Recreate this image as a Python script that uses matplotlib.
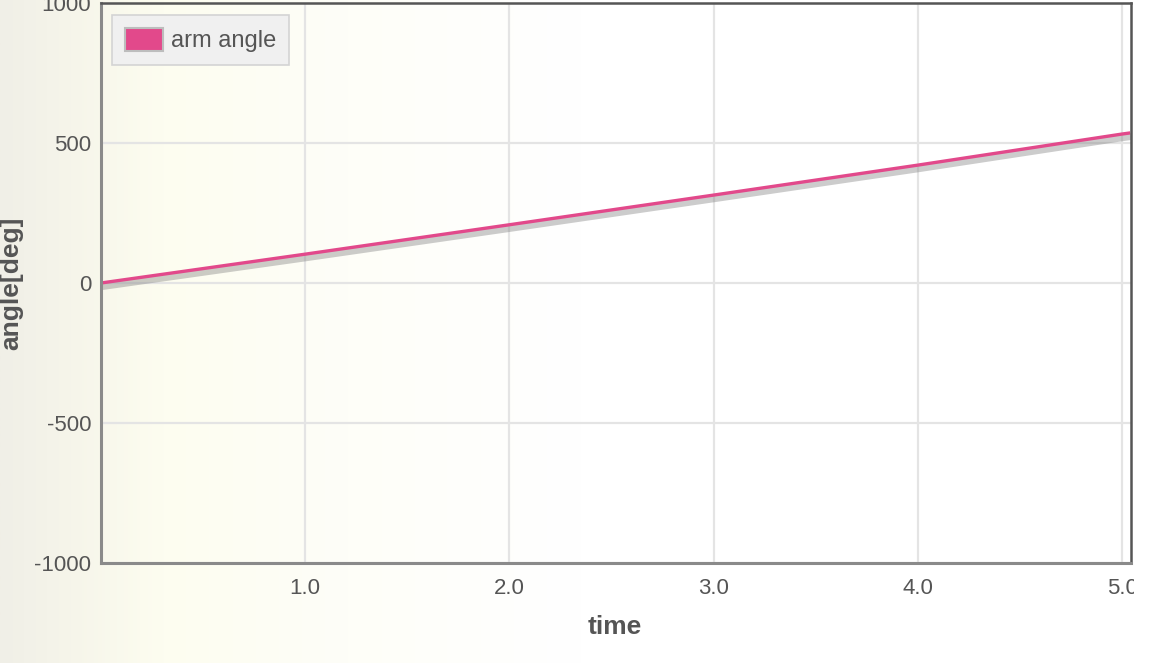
import numpy as np
import matplotlib
matplotlib.use('Agg')
import matplotlib.pyplot as plt
import matplotlib.patheffects as pe
from matplotlib.patches import Rectangle
from matplotlib.transforms import Bbox

# values
time = [0.0, 1.0, 2.0, 3.0, 4.0, 5.0, 5.04]
arm_angle = [0, 103, 208, 314, 421, 532, 536]
x_ticks = [1.0, 2.0, 3.0, 4.0, 5.0]
x_tick_labels = ['1.0', '2.0', '3.0', '4.0', '5.0']
y_ticks = [-1000, -500, 0, 500, 1000]

plt.rcParams['font.family'] = ['Liberation Sans', 'DejaVu Sans']
plt.rcParams['axes.unicode_minus'] = False

W, H = 1160, 663
fig = plt.figure(figsize=(W / 100, H / 100), dpi=100)

# soft cream gradient behind everything, fading to white towards the right
bg = fig.add_axes([0, 0, 1, 1], zorder=-10)
xs = np.linspace(0, 1, 400)
stops_x = [0.0, 0.06, 0.14, 0.30, 0.50, 1.0]
stops_c = np.array([[240, 239, 231], [246, 245, 234], [253, 253, 240],
                    [254, 254, 248], [255, 255, 255], [255, 255, 255]]) / 255
grad = np.stack([np.interp(xs, stops_x, stops_c[:, k]) for k in range(3)], axis=-1)
bg.imshow(grad[np.newaxis, :, :], aspect='auto', extent=[0, 1, 0, 1])
bg.set_axis_off()

left, right = 101 / W, 1131 / W
bottom, top = (H - 563) / H, (H - 3) / H
ax = fig.add_axes([left, bottom, right - left, top - bottom])
ax.patch.set_alpha(0)

ax.plot(time, arm_angle, color='#e2498b', lw=2.4, solid_capstyle='butt',
        path_effects=[pe.SimpleLineShadow(offset=(0.6, -2.6), shadow_color='#808080',
                                          alpha=0.4, linewidth=5),
                      pe.Normal()])

ax.set_xlim(0, 5.044)
ax.set_ylim(-1000, 1000)
ax.set_xticks(x_ticks)
ax.set_xticklabels(x_tick_labels)
ax.set_yticks(y_ticks)
ax.grid(True, color='#e4e4e4', lw=1.6)
ax.set_axisbelow(True)
ax.tick_params(length=0, labelsize=16, labelcolor='#555555')
ax.tick_params(axis='x', pad=11)
ax.tick_params(axis='y', pad=7)

for side in ['left', 'bottom']:
    ax.spines[side].set_color('#8a8a8a')
    ax.spines[side].set_linewidth(2.2)
for side in ['top', 'right']:
    ax.spines[side].set_color('#555555')
    ax.spines[side].set_linewidth(1.8)

ax.set_xlabel('time', fontsize=19, fontweight='bold', color='#555555')
ax.set_ylabel('angle[deg]', fontsize=19, fontweight='bold', color='#555555')
ax.xaxis.set_label_coords(0.499, -0.092)
ax.yaxis.label.set_va('center')
ax.yaxis.set_label_coords(-0.087, 0.5)

# legend key is a filled box in the original
box_handle = Rectangle((0, 0), 1, 1, facecolor='#e2498b', edgecolor='#bdbdbd', lw=1.5)
leg = ax.legend([box_handle], ['arm angle'], loc='upper left',
                bbox_to_anchor=(0.0107, 0.9786), borderaxespad=0, fontsize=17,
                frameon=True, fancybox=False, framealpha=1,
                facecolor='#f0f0f0', edgecolor='#d4d4d4',
                handlelength=1.6, handleheight=1.1, handletextpad=0.35,
                borderpad=0.55, labelcolor='#555555')
leg.get_frame().set_linewidth(1.2)

# the last x tick label is cut off at the right edge in the reference
fig.canvas.draw()
clip = Bbox([[0, 0], [1134, H]])
for lab in ax.get_xticklabels():
    lab.set_clip_box(clip)
    lab.set_clip_on(True)

fig.savefig('out.png', dpi=100)
